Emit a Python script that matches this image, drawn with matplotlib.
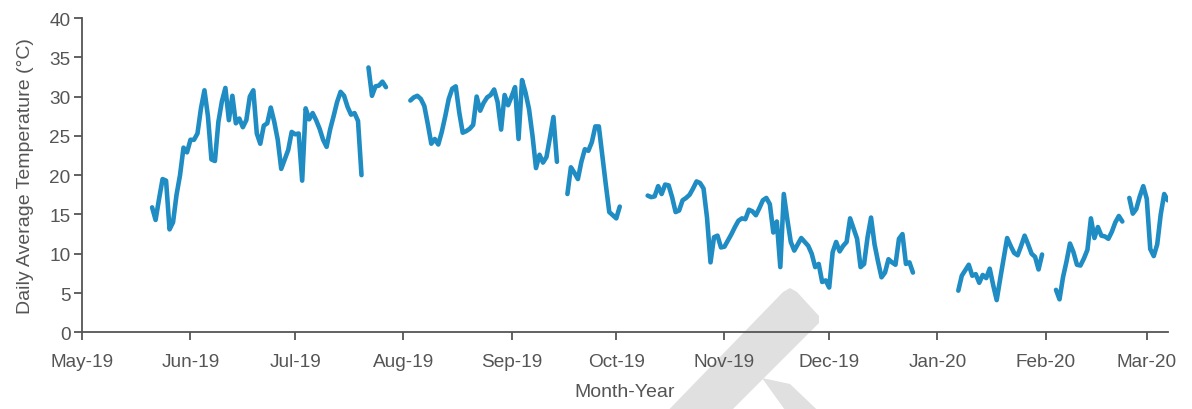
import matplotlib
matplotlib.use("Agg")
import matplotlib.pyplot as plt
import matplotlib.dates as mdates
from matplotlib.patches import Polygon
import numpy as np
import pandas as pd

# Daily average temperature (°C); each run of days starts on the given date,
# gaps between runs are days without records.
seg_starts = ["2019-05-21", "2019-07-22", "2019-08-03", "2019-09-17",
              "2019-10-10", "2020-01-07", "2020-02-04", "2020-02-25"]

seg1 = [15.9, 14.3, 17.0, 19.5, 19.3, 13.1, 14.0, 17.5, 20.0, 23.5, 22.9, 24.5,
        24.5, 25.3, 28.5, 30.8, 27.5, 22.0, 21.8, 26.8, 29.4, 31.1, 27.0, 30.1,
        26.6, 27.2, 26.1, 27.0, 30.0, 30.8, 25.3, 24.0, 26.3, 26.6, 28.6, 26.8,
        24.5, 20.8, 22.0, 23.2, 25.5, 25.2, 25.3, 19.3, 28.5, 27.1, 27.9, 27.0,
        25.9, 24.5, 23.6, 25.8, 27.5, 29.3, 30.6, 30.1, 28.7, 27.7, 27.9, 26.9,
        20.0]
seg2 = [33.7, 30.1, 31.3, 31.4, 31.9, 31.2]
seg3 = [29.5, 29.9, 30.1, 29.7, 28.8, 26.5, 24.0, 24.6, 23.9, 25.5, 27.5, 29.7,
        31.0, 31.3, 28.0, 25.4, 25.6, 25.9, 26.4, 30.0, 28.2, 29.2, 29.9, 30.2,
        30.9, 29.3, 25.8, 30.2, 28.9, 30.0, 31.2, 24.6, 32.1, 30.5, 28.4, 25.0,
        20.9, 22.6, 21.6, 22.3, 24.8, 27.4, 21.7]
seg4 = [17.6, 21.0, 20.3, 19.5, 21.7, 23.3, 23.1, 24.2, 26.2, 26.2, 22.5, 18.8,
        15.3, 14.9, 14.5, 16.0]
seg5 = [17.4, 17.2, 17.3, 18.6, 17.6, 18.8, 18.7, 17.2, 15.3, 15.5, 16.8, 17.1,
        17.5, 18.3, 19.2, 19.0, 18.3, 14.6, 8.9, 12.1, 12.3, 10.8, 10.9, 11.7,
        12.5, 13.4, 14.2, 14.5, 14.4, 15.6, 15.4, 14.9, 15.8, 16.8, 17.1, 16.3,
        12.7, 14.1, 8.3, 17.6, 14.4, 11.5, 10.4, 11.2, 12.0, 11.5, 11.0, 10.0,
        8.3, 8.7, 6.4, 6.6, 5.7, 10.2, 11.5, 10.3, 11.0, 11.5, 14.5, 13.2, 11.9,
        8.3, 8.7, 12.1, 14.6, 11.2, 9.0, 7.0, 7.6, 9.3, 8.9, 8.6, 11.9, 12.5,
        8.7, 8.9, 7.6]
seg6 = [5.3, 7.2, 7.9, 8.6, 7.2, 7.4, 6.3, 7.3, 6.9, 8.1, 6.0, 4.1, 6.8, 9.4,
        12.0, 11.0, 10.1, 9.8, 11.0, 12.3, 11.2, 10.0, 9.6, 8.0, 9.9]
seg7 = [5.4, 4.2, 7.0, 9.0, 11.3, 10.2, 8.6, 8.5, 9.4, 10.5, 14.5, 12.0, 13.4,
        12.3, 12.2, 11.9, 12.8, 14.0, 14.8, 14.1]
seg8 = [17.1, 15.1, 15.7, 17.3, 18.6, 17.0, 10.6, 9.7, 11.2, 15.0, 17.6, 16.8]

segments = [seg1, seg2, seg3, seg4, seg5, seg6, seg7, seg8]
y_ticks = [0, 5, 10, 15, 20, 25, 30, 35, 40]
x_range = ["2019-05-01", "2020-03-07"]

# one continuous daily series with NaN on missing days
parts = [pd.Series(vals, index=pd.date_range(start, periods=len(vals), freq="D"))
         for start, vals in zip(seg_starts, segments)]
series = pd.concat(parts)
full_index = pd.date_range(series.index.min(), series.index.max(), freq="D")
series = series.reindex(full_index)

plt.rcParams["font.family"] = ["Liberation Sans", "DejaVu Sans"]
grey = "#555555"
line_blue = "#1f8cc3"

W, H = 1192, 410
fig = plt.figure(figsize=(W / 100, H / 100), dpi=100)
ax = fig.add_axes([82.3 / W, 1 - 333.3 / H, (1167.7 - 82.3) / W, (333.3 - 19) / H])
ax.patch.set_alpha(0)

# faint background stamp in the lower middle
def px(pts):
    return [(x / W, 1 - y / H) for x, y in pts]

stamp_a = Polygon(px([(655, 425), (783, 293), (790, 289), (797, 293), (819, 317),
                      (819, 324), (718, 425)]),
                  closed=True, transform=fig.transFigure, facecolor="#e0e0e0",
                  edgecolor="none", zorder=-5)
stamp_b = Polygon(px([(762, 379), (790, 385), (832, 425), (795, 425)]),
                  closed=True, transform=fig.transFigure, facecolor="#e0e0e0",
                  edgecolor="none", zorder=-5)
fig.add_artist(stamp_a)
fig.add_artist(stamp_b)

ax.plot(series.index, series.values, color=line_blue, lw=3.3,
        solid_joinstyle="round", solid_capstyle="round", zorder=3)

ax.set_xlim(pd.Timestamp(x_range[0]), pd.Timestamp(x_range[1]))
ax.set_ylim(0, 40)
ax.set_yticks(y_ticks)

ax.xaxis.set_major_locator(mdates.MonthLocator())
ax.xaxis.set_major_formatter(mdates.DateFormatter("%b-%y"))

for side in ("top", "right"):
    ax.spines[side].set_visible(False)
for side in ("left", "bottom"):
    ax.spines[side].set_color(grey)
    ax.spines[side].set_linewidth(1.3)

ax.tick_params(axis="both", colors=grey, labelcolor=grey, labelsize=13.7,
               direction="out", width=1.3)
ax.tick_params(axis="x", length=5.5, pad=9.5)
ax.tick_params(axis="y", length=5.5, pad=3)

ax.set_xlabel("Month-Year", fontsize=14, color=grey, labelpad=9)
ax.set_ylabel("Daily Average Temperature (°C)", fontsize=14, color=grey,
              labelpad=11)

fig.savefig("out.png", dpi=100)
